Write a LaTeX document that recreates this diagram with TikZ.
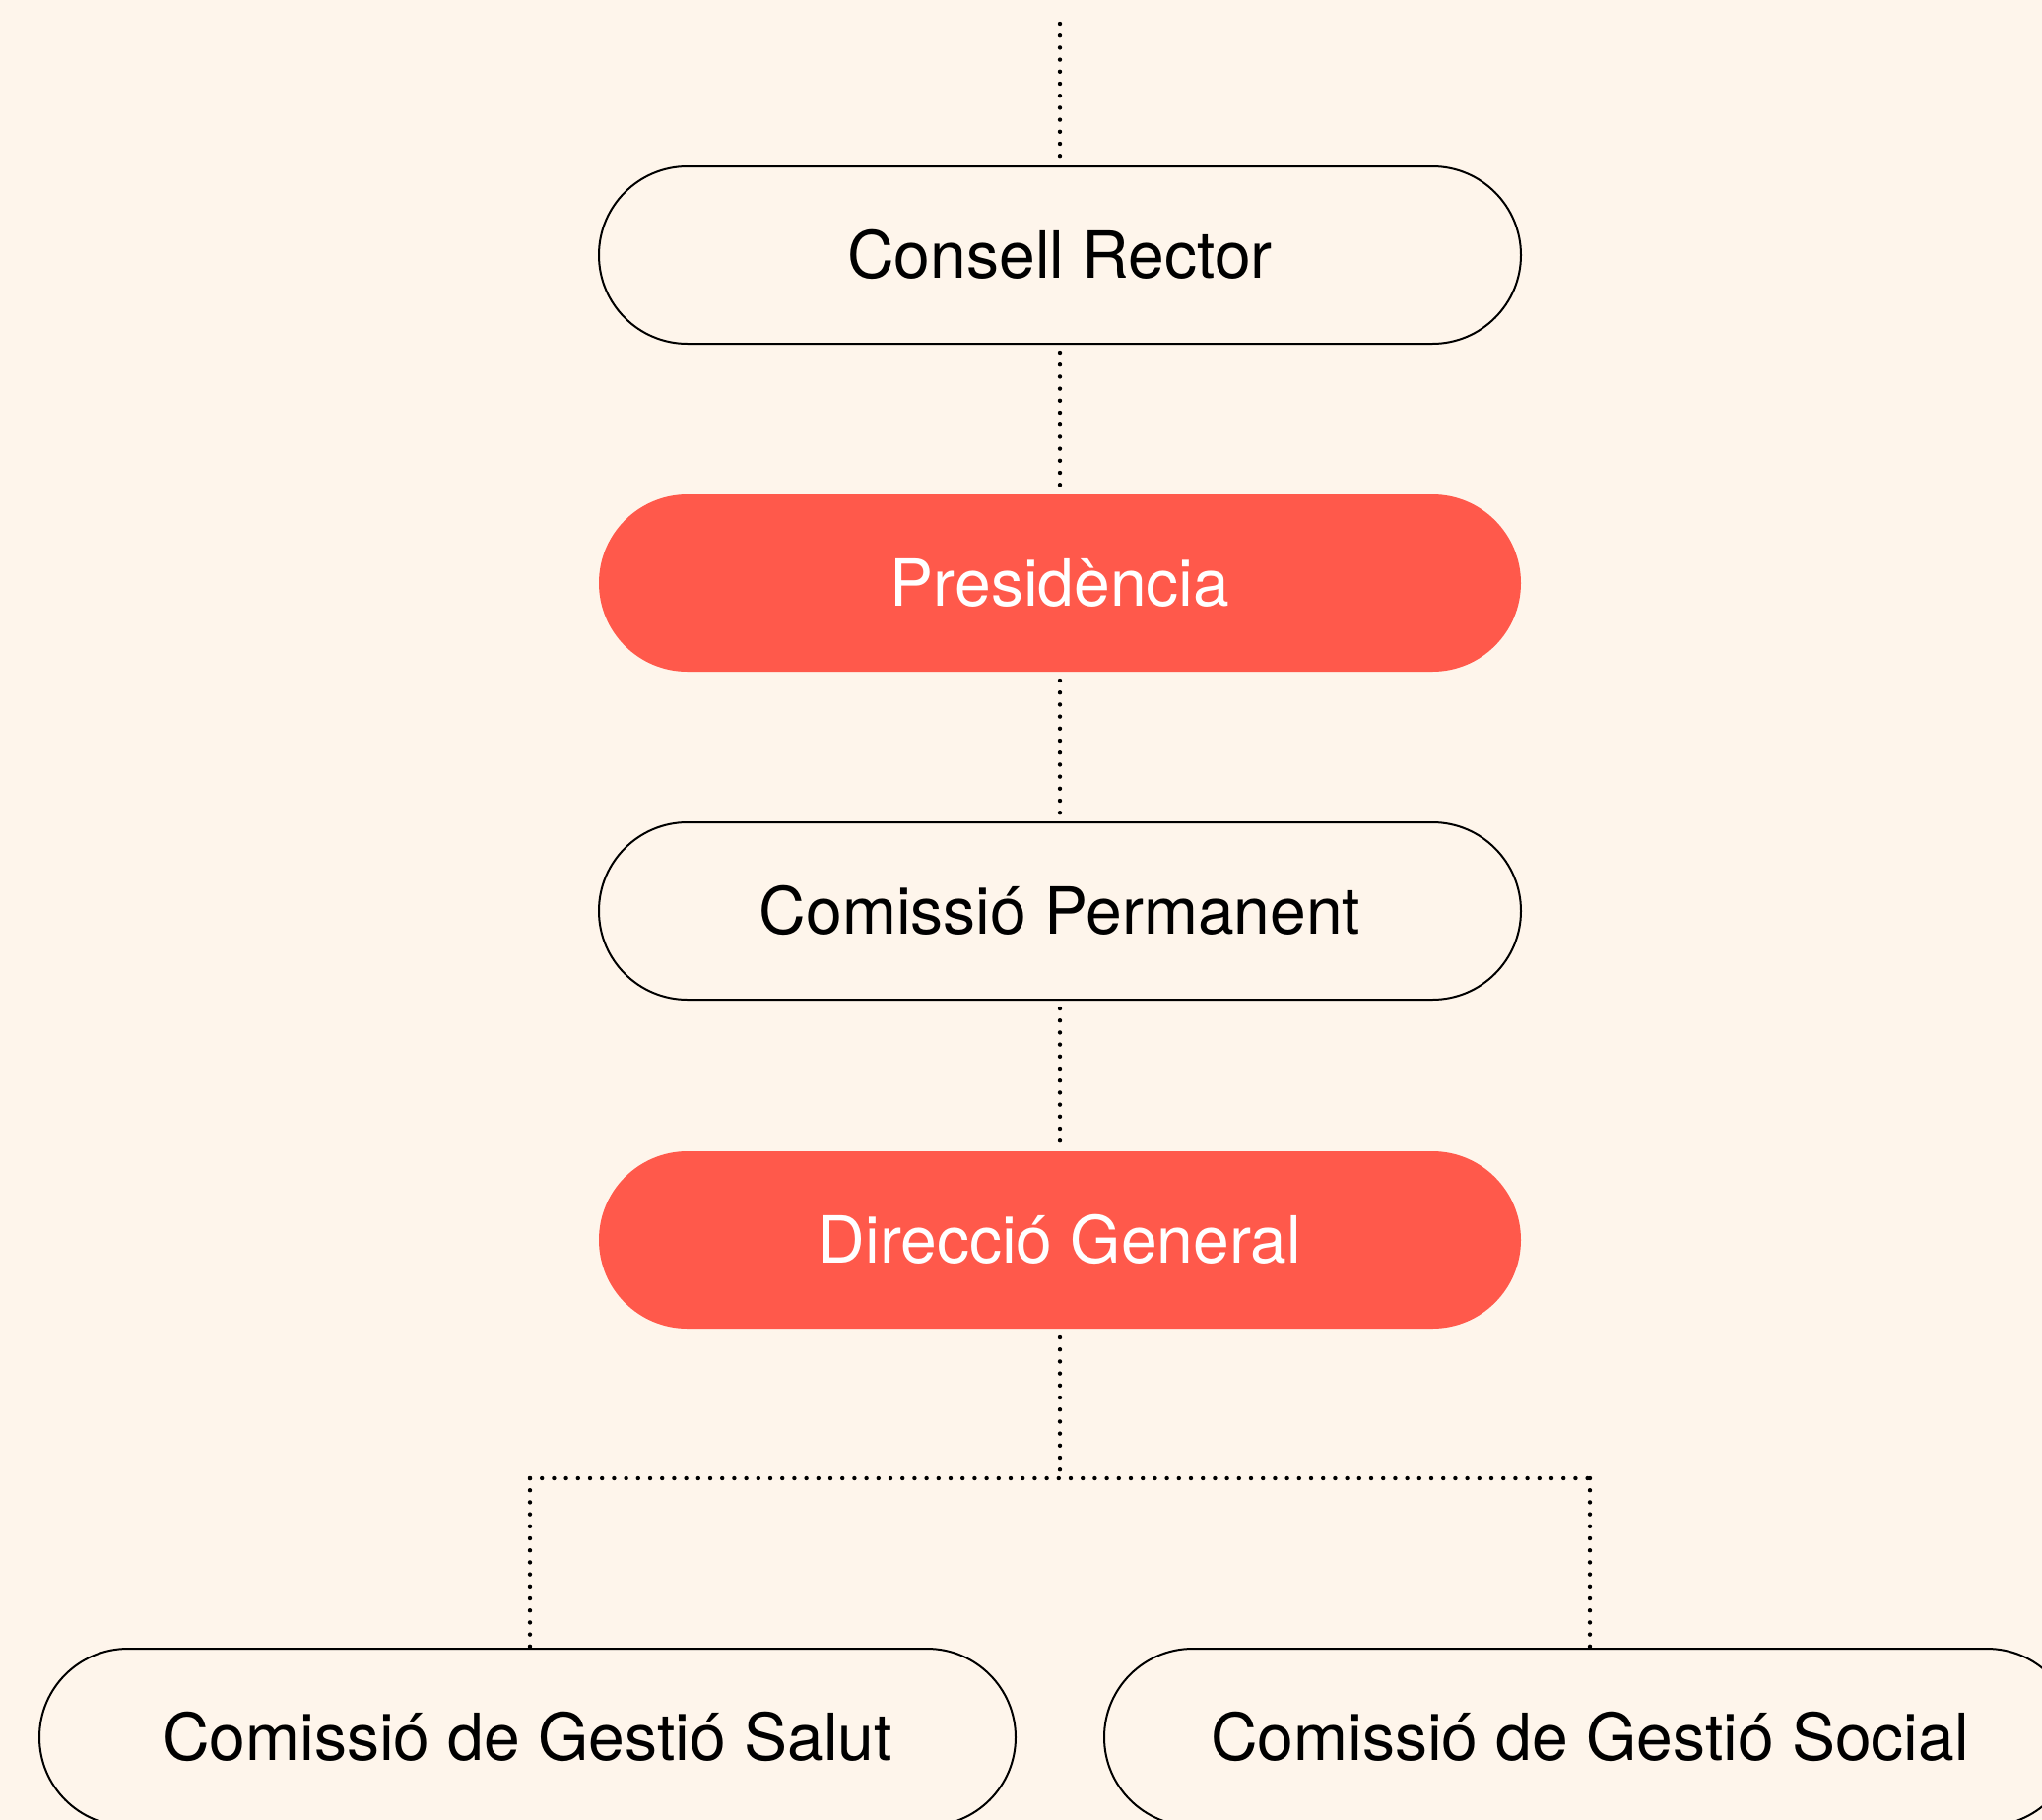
\documentclass[tikz,border=0pt]{standalone}
\usepackage{fontspec}
\setmainfont{TeX Gyre Heros}
\definecolor{bgcream}{HTML}{FEF5EB}
\definecolor{redfill}{HTML}{FF594B}
\begin{document}
\begin{tikzpicture}[x=1pt,y=-1pt,
  pill/.style={draw=black, line width=2pt, fill=bgcream, rectangle, rounded corners=89.9pt,
    minimum height=180pt, inner sep=0pt, text height=47.5pt, text depth=0pt,
    font=\fontsize{66}{79}\selectfont, text=black},
  redpill/.style={pill, draw=none, fill=redfill, text=white},
  dotline/.style={draw=black, line width=4.4pt, line cap=round, dash pattern=on 0pt off 12.2pt}]
\useasboundingbox (0,0) rectangle (2073,1848);
\clip (0,0) rectangle (2073,1848);
\fill[bgcream] (0,0) rectangle (2073,1848);

\coordinate (top) at (1076,24);
\coordinate (split) at (1076,1501);
\coordinate (splitL) at (538,1501);
\coordinate (splitR) at (1614,1501);

\node[pill, minimum width=936pt] (cr) at (1076,259) {Consell Rector};
\node[redpill, minimum width=936pt] (pr) at (1076,592) {Presidència};
\node[pill, minimum width=936pt] (cp) at (1076,925) {Comissió Permanent};
\node[redpill, minimum width=936pt] (dg) at (1076,1259) {Direcció General};
\node[pill, minimum width=991pt] (cgs) at (535.5,1764) {Comissió de Gestió Salut};
\node[pill, minimum width=986pt] (cgso) at (1614,1764) {Comissió de Gestió Social};

\draw[dotline] (top) -- ([yshift=5pt]cr.north);
\draw[dotline] ([yshift=-8pt]cr.south) -- ([yshift=5pt]pr.north);
\draw[dotline] ([yshift=-8pt]pr.south) -- ([yshift=5pt]cp.north);
\draw[dotline] ([yshift=-8pt]cp.south) -- ([yshift=5pt]dg.north);
\draw[dotline] ([yshift=-8pt]dg.south) -- (split);
\draw[dotline] (splitL) -- (splitR);
\draw[dotline] (splitL) -- (splitL |- cgs.north);
\draw[dotline] (splitR) -- (cgso.north);
\end{tikzpicture}
\end{document}
